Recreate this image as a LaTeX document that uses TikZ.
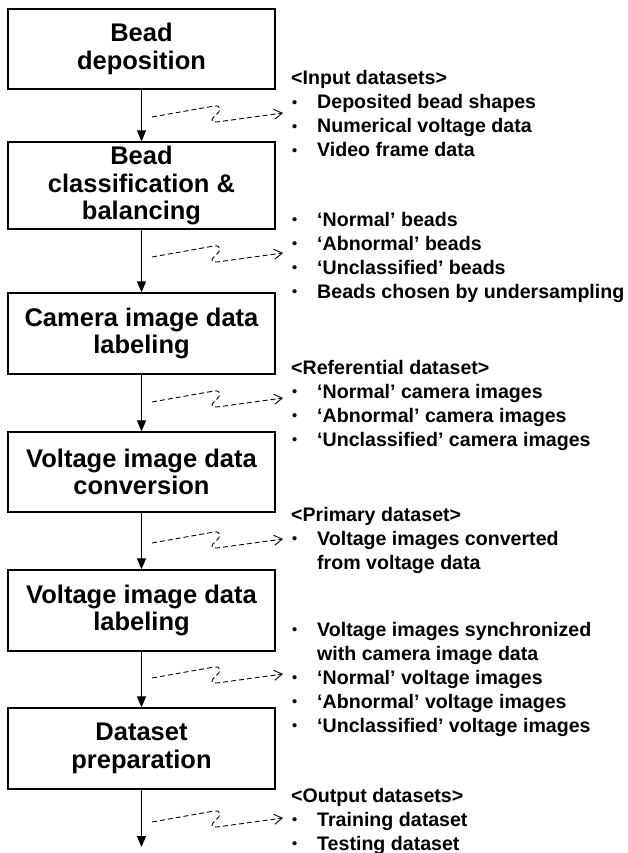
\documentclass[tikz,border=0pt]{standalone}
\usepackage{fontspec}
\setmainfont{Liberation Sans}
\usetikzlibrary{arrows.meta}
\newcommand\dashsquig[2]{%
  \coordinate (#1s) at (152,#2);
  \coordinate (#1e) at (283,{#2-4});
  \draw[dconn] (#1s) -- (214,{#2-11}) .. controls (222,{#2-12}) and (221,{#2-6}) .. (216,{#2-2}) .. controls (211,{#2+2}) and (210,{#2+5}) .. (217,{#2+5}) -- (#1e);
}
\tikzset{
  stepbox/.style={draw, line width=1.3pt, minimum width=267pt, inner sep=0pt, align=center,
    font=\bfseries\fontsize{25.5}{27.5}\selectfont},
  flow/.style={line width=1.2pt, -{Triangle[length=11pt,width=9pt]}},
  dconn/.style={line width=0.9pt, dash pattern=on 5pt off 3pt, -{Straight Barb[length=8pt,width=10pt,line width=0.9pt]}},
  grp/.style={anchor=base west, inner sep=0pt, font=\bfseries\fontsize{19.6}{24}\selectfont},
}
\newcommand\bl{\hspace*{1pt}\raisebox{1.2pt}{\fontsize{14.5}{14.5}\selectfont\textbullet}}
\begin{document}
\begin{tikzpicture}[x=1pt,y=-1pt]
\useasboundingbox[fill=white] (0,0) rectangle (628,853);
\node[stepbox, minimum height=80pt] (b1) at (141.5,49) {Bead\\deposition};
\node[stepbox, minimum height=87pt] (b2) at (141.5,185.5) {Bead\\classification \&\\balancing};
\node[stepbox, minimum height=81pt] (b3) at (141.5,333.5) {Camera image data\\labeling};
\node[stepbox, minimum height=80pt] (b4) at (141.5,472) {Voltage image data\\conversion};
\node[stepbox, minimum height=81pt] (b5) at (141.5,610.5) {Voltage image data\\labeling};
\node[stepbox, minimum height=81pt] (b6) at (141.5,748.5) {Dataset\\preparation};
\coordinate (bend) at (141.5,847);
\draw[flow] (b1) -- (b2);
\draw[flow] (b2) -- (b3);
\draw[flow] (b3) -- (b4);
\draw[flow] (b4) -- (b5);
\draw[flow] (b5) -- (b6);
\draw[flow] (b6) -- (bend);
\dashsquig{d1}{117}
\dashsquig{d2}{257}
\dashsquig{d3}{402}
\dashsquig{d4}{543}
\dashsquig{d5}{678}
\dashsquig{d6}{822}
\node[grp] (g1) at (291,85) {\begin{tabular}[t]{@{}p{26pt}@{}l@{}}
\multicolumn{2}{@{}l@{}}{<Input datasets>}\\
\bl & Deposited bead shapes\\
\bl & Numerical voltage data\\
\bl & Video frame data
\end{tabular}};
\node[grp] (g2) at (291,226) {\begin{tabular}[t]{@{}p{26pt}@{}l@{}}
\bl & ‘Normal’ beads\\
\bl & ‘Abnormal’ beads\\
\bl & ‘Unclassified’ beads\\
\bl & Beads chosen by undersampling
\end{tabular}};
\node[grp] (g3) at (291,374) {\begin{tabular}[t]{@{}p{26pt}@{}l@{}}
\multicolumn{2}{@{}l@{}}{<Referential dataset>}\\
\bl & ‘Normal’ camera images\\
\bl & ‘Abnormal’ camera images\\
\bl & ‘Unclassified’ camera images
\end{tabular}};
\node[grp] (g4) at (291,521) {\begin{tabular}[t]{@{}p{26pt}@{}l@{}}
\multicolumn{2}{@{}l@{}}{<Primary dataset>}\\
\bl & Voltage images converted\\
 & from voltage data
\end{tabular}};
\node[grp] (g5) at (291,636) {\begin{tabular}[t]{@{}p{26pt}@{}l@{}}
\bl & Voltage images synchronized\\
 & with camera image data\\
\bl & ‘Normal’ voltage images\\
\bl & ‘Abnormal’ voltage images\\
\bl & ‘Unclassified’ voltage images
\end{tabular}};
\node[grp] (g6) at (291,802) {\begin{tabular}[t]{@{}p{26pt}@{}l@{}}
\multicolumn{2}{@{}l@{}}{<Output datasets>}\\
\bl & Training dataset\\
\bl & Testing dataset
\end{tabular}};
\end{tikzpicture}
\end{document}
